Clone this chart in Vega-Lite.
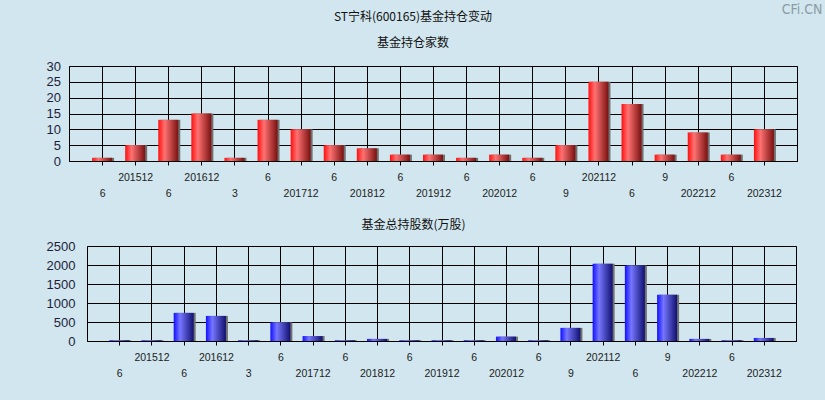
{
  "$schema": "https://vega.github.io/schema/vega-lite/v6.json",
  "background": "#d1e6ee",
  "padding": {"left": 45, "top": 2, "right": 3, "bottom": 25},
  "title": {"text": "CFi.CN", "anchor": "end", "frame": "bounds", "orient": "top", "offset": -6, "dx": 25, "fontSize": 14, "font": "DejaVu Sans Condensed", "fontWeight": "normal", "color": "#8c9ca4"},
  "data": {"values": [
    {"period": "201506", "funds": 1, "shares": 20},
    {"period": "201512", "funds": 5, "shares": 20},
    {"period": "201606", "funds": 13, "shares": 740},
    {"period": "201612", "funds": 15, "shares": 660},
    {"period": "201703", "funds": 1, "shares": 20},
    {"period": "201706", "funds": 13, "shares": 490},
    {"period": "201712", "funds": 10, "shares": 130},
    {"period": "201806", "funds": 5, "shares": 20},
    {"period": "201812", "funds": 4, "shares": 55},
    {"period": "201906", "funds": 2, "shares": 20},
    {"period": "201912", "funds": 2, "shares": 20},
    {"period": "202006", "funds": 1, "shares": 20},
    {"period": "202012", "funds": 2, "shares": 115},
    {"period": "202106", "funds": 1, "shares": 20},
    {"period": "202109", "funds": 5, "shares": 345},
    {"period": "202112", "funds": 25, "shares": 2030},
    {"period": "202206", "funds": 18, "shares": 1990},
    {"period": "202209", "funds": 2, "shares": 1215},
    {"period": "202212", "funds": 9, "shares": 55},
    {"period": "202306", "funds": 2, "shares": 20},
    {"period": "202312", "funds": 10, "shares": 80}
  ]},
  "config": {
    "font": "Liberation Sans",
    "view": {"stroke": "#000000", "strokeWidth": 1},
    "axisX": {
      "title": null, "labelAngle": 0, "labelFontSize": 10.5, "labelColor": "#222222",
      "labelExpr": "substring(datum.value,4)=='12' ? datum.value : replace(substring(datum.value,4),'0','')",
      "labelOverlap": false, "labelBound": false,
      "tickColor": "#000000", "tickSize": 4, "domainColor": "#000000",
      "grid": true, "gridColor": "#000000", "gridWidth": 1, "gridOpacity": 1,
      "labelPadding": {"condition": {"test": "indexof(['201506','201606','201703','201712','201812','201912','202012','202109','202206','202212','202312'], datum.value) >= 0", "value": 23}, "value": 7}
    },
    "axisY": {
      "title": null, "labelFontSize": 13, "labelColor": "#1d1d3a", "ticks": false, "domain": false, "format": "d",
      "grid": true, "gridColor": "#000000", "gridWidth": 1, "gridOpacity": 1
    }
  },
  "spacing": 19,
  "vconcat": [
    {
      "width": 728, "height": 95,
      "title": {"text": "ST宁科(600165)基金持仓变动", "subtitle": "基金持仓家数", "anchor": "middle", "dx": -20, "fontSize": 12, "subtitleFontSize": 12, "font": "Noto Sans CJK SC", "subtitleFont": "Noto Sans CJK SC", "fontWeight": "normal", "color": "#111111", "subtitleColor": "#111111", "subtitlePadding": 14, "offset": 10},
      "encoding": {
        "x": {"field": "period", "type": "ordinal", "sort": null, "scale": {"type": "point", "padding": 1}},
        "y": {"field": "funds", "type": "quantitative", "scale": {"domain": [0, 30], "nice": false}, "axis": {"values": [0, 5, 10, 15, 20, 25, 30], "labelPadding": 8.5}}
      },
      "layer": [
        {"mark": {"type": "bar", "width": 20, "xOffset": 2, "color": "#707070"}},
        {"mark": {"type": "bar", "width": 20, "color": {"gradient": "linear", "x1": 0, "x2": 1, "y1": 0, "y2": 0, "stops": [{"offset": 0, "color": "#ff0f0f"}, {"offset": 0.32, "color": "#ff7272"}, {"offset": 1, "color": "#7a1010"}]}}}
      ]
    },
    {"bounds": "flush", "spacing": 0, "hconcat": [
    {
      "width": 18, "height": 95,
      "data": {"values": [{"spacer": ""}]},
      "view": {"stroke": null},
      "mark": {"type": "text", "opacity": 0},
      "encoding": {"text": {"field": "spacer"}}
    },
    {
      "width": 709, "height": 95,
      "title": {"text": "基金总持股数(万股)", "anchor": "middle", "dx": -28, "fontSize": 12, "font": "Noto Sans CJK SC", "fontWeight": "normal", "color": "#111111", "offset": 8},
      "encoding": {
        "x": {"field": "period", "type": "ordinal", "sort": null, "scale": {"type": "point", "padding": 1}},
        "y": {"field": "shares", "type": "quantitative", "scale": {"domain": [0, 2500], "nice": false}, "axis": {"values": [0, 500, 1000, 1500, 2000, 2500], "labelPadding": 12}}
      },
      "layer": [
        {"mark": {"type": "bar", "width": 20, "xOffset": 2, "color": "#707070"}},
        {"mark": {"type": "bar", "width": 20, "color": {"gradient": "linear", "x1": 0, "x2": 1, "y1": 0, "y2": 0, "stops": [{"offset": 0, "color": "#1010ff"}, {"offset": 0.32, "color": "#7676ff"}, {"offset": 1, "color": "#101070"}]}}}
      ]
    }]}
  ]
}
